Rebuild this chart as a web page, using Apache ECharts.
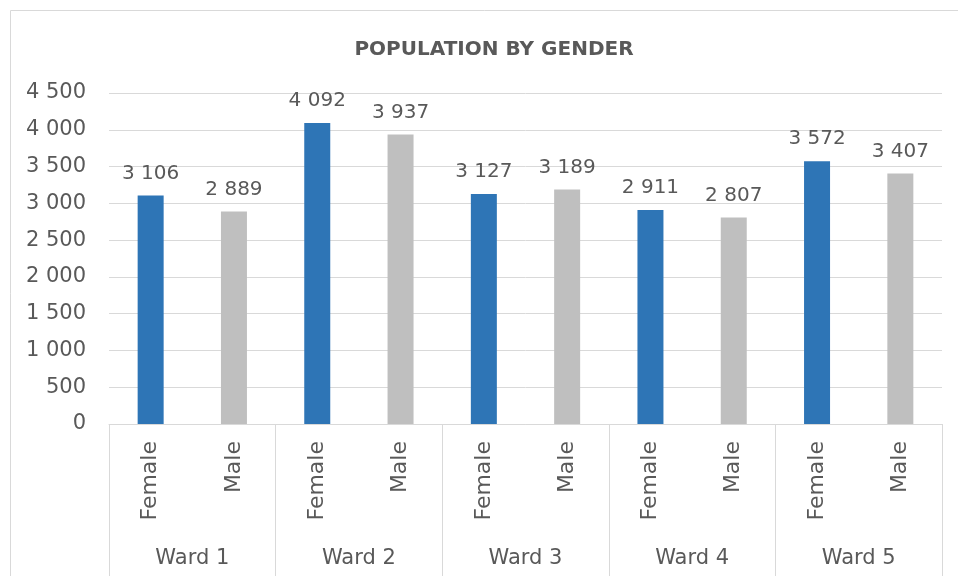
<!DOCTYPE html>
<html>
<head>
<meta charset="utf-8">
<script src="https://cdn.jsdelivr.net/npm/echarts@6/dist/echarts.min.js"></script>
<style>
  html, body { margin: 0; padding: 0; background: #fff; }
  #chart { width: 958px; height: 576px; }
</style>
</head>
<body>
<div id="chart"></div>
<script>
const wards = ["Ward 1", "Ward 2", "Ward 3", "Ward 4", "Ward 5"];
const genders = ["Female", "Male"];
const femaleValues = [3106, 4092, 3127, 2911, 3572];
const maleValues = [2889, 3937, 3189, 2807, 3407];
const yTicks = [0, 500, 1000, 1500, 2000, 2500, 3000, 3500, 4000, 4500];

const genderColors = { Female: "#2e75b6", Male: "#bfbfbf" };
const textColor = "#595959";
const fontFamily = "DejaVu Sans";

// spaces as thousands separator
function fmt(v) {
  return String(v).replace(/\B(?=(\d{3})+(?!\d))/g, " ");
}

// interleave Female / Male for each ward
const subLabels = [];
const barData = [];
wards.forEach(function(w, i) {
  subLabels.push(genders[0], genders[1]);
  barData.push({ value: femaleValues[i], itemStyle: { color: genderColors.Female } });
  barData.push({ value: maleValues[i], itemStyle: { color: genderColors.Male } });
});

const chart = echarts.init(document.getElementById("chart"));
chart.setOption({
  animation: false,
  textStyle: { fontFamily: fontFamily },
  graphic: [{
    type: "rect",
    shape: { x: 10.5, y: 10.5, width: 980, height: 600 },
    style: { fill: "none", stroke: "#d9d9d9", lineWidth: 1 },
    silent: true
  }],
  title: {
    text: "POPULATION BY GENDER",
    left: 489,
    top: 35,
    textAlign: "center",
    textStyle: { fontFamily: fontFamily, fontSize: 20, fontWeight: "bold", color: textColor }
  },
  grid: { left: 109, right: 16, top: 93, bottom: 152 },
  xAxis: [
    {
      type: "category",
      data: subLabels,
      axisLine: { show: false },
      axisTick: { show: false },
      axisLabel: {
        rotate: 90,
        margin: 17,
        color: textColor,
        fontSize: 22,
        fontFamily: fontFamily
      }
    },
    {
      type: "category",
      data: wards,
      position: "bottom",
      axisLine: { show: true, lineStyle: { color: "#d9d9d9" } },
      axisTick: { show: true, length: 152, lineStyle: { color: "#d9d9d9" } },
      axisLabel: {
        margin: 124,
        color: textColor,
        fontSize: 21,
        fontFamily: fontFamily
      }
    }
  ],
  yAxis: {
    type: "value",
    min: yTicks[0],
    max: yTicks[yTicks.length - 1],
    interval: 500,
    axisLine: { show: false },
    axisTick: { show: false },
    splitLine: { lineStyle: { color: "#d9d9d9" } },
    axisLabel: {
      margin: 23,
      color: textColor,
      fontSize: 21,
      fontFamily: fontFamily,
      formatter: fmt
    }
  },
  series: [{
    type: "bar",
    xAxisIndex: 0,
    data: barData,
    barWidth: 26,
    label: {
      show: true,
      position: "top",
      distance: 12,
      color: textColor,
      fontSize: 20,
      fontFamily: fontFamily,
      formatter: function(p) { return fmt(p.value); }
    }
  }]
});
</script>
</body>
</html>
